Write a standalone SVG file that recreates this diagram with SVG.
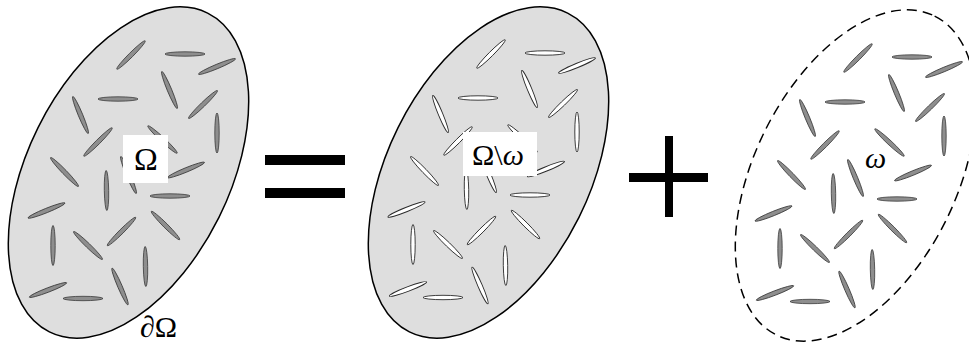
<svg xmlns="http://www.w3.org/2000/svg" xmlns:xlink="http://www.w3.org/1999/xlink" width="969" height="343" viewBox="0 0 969 343">
<style>
.region{fill:#dedede;stroke:#000;stroke-width:1.5}
.dashed{fill:none;stroke:#000;stroke-width:1.5;stroke-dasharray:10 6}
.fg{fill:#8e8e8e;stroke:#3a3a3a;stroke-width:0.8}
.fw{fill:#ffffff;stroke:#2a2a2a;stroke-width:0.9}
.lbl{font-family:"Liberation Serif","Times New Roman",serif;fill:#000}
.it{font-style:italic}
.box{fill:#fff}
.sym{fill:#000}
</style>
<defs>
<ellipse id="fb" cx="0" cy="0" rx="20" ry="2.2"/>
<g id="fibers">
<use xlink:href="#fb" transform="translate(131,55) rotate(-45)"/>
<use xlink:href="#fb" transform="translate(185,54)"/>
<use xlink:href="#fb" transform="translate(217,66.5) rotate(-22.6)"/>
<use xlink:href="#fb" transform="translate(169.5,90) rotate(67.4)"/>
<use xlink:href="#fb" transform="translate(118,99)"/>
<use xlink:href="#fb" transform="translate(203,104.5) rotate(-44)"/>
<use xlink:href="#fb" transform="translate(80.5,115) rotate(67.4)"/>
<use xlink:href="#fb" transform="translate(217,133) rotate(90)"/>
<use xlink:href="#fb" transform="translate(98,142) rotate(-45)"/>
<use xlink:href="#fb" transform="translate(162.5,139.5) rotate(43)"/>
<use xlink:href="#fb" transform="translate(64.5,172) rotate(46)"/>
<use xlink:href="#fb" transform="translate(106.5,190.5) rotate(89)"/>
<use xlink:href="#fb" transform="translate(128.5,175) rotate(67.4)"/>
<use xlink:href="#fb" transform="translate(186,170) rotate(-22.4)"/>
<use xlink:href="#fb" transform="translate(170,196)"/>
<use xlink:href="#fb" transform="translate(46.5,210.5) rotate(-22)"/>
<use xlink:href="#fb" transform="translate(165.5,225.5) rotate(45)"/>
<use xlink:href="#fb" transform="translate(121.5,231.5) rotate(-45)"/>
<use xlink:href="#fb" transform="translate(53,245.5) rotate(90)"/>
<use xlink:href="#fb" transform="translate(88,245.5) rotate(44)"/>
<use xlink:href="#fb" transform="translate(145.5,266.5) rotate(89)"/>
<use xlink:href="#fb" transform="translate(120,286.5) rotate(66.6)"/>
<use xlink:href="#fb" transform="translate(48,290) rotate(-21)"/>
<use xlink:href="#fb" transform="translate(83,298.5)"/>
</g>
</defs>
<rect width="969" height="343" fill="#fff"/>

<g id="omega-full">
<ellipse class="region" cx="128.5" cy="172.5" rx="178" ry="101" transform="rotate(-63.6 128.5 172.5)"/>
<use xlink:href="#fibers" class="fg"/>
<rect class="box" x="123" y="135" width="45" height="48"/>
<text class="lbl" x="146" y="170" font-size="32" text-anchor="middle">Ω</text>
<text class="lbl" x="140" y="337" font-size="30">∂Ω</text>
</g>

<g id="equals-sign">
<rect class="sym" x="265" y="155" width="80" height="10"/>
<rect class="sym" x="265" y="188" width="80" height="10"/>
</g>

<g id="omega-minus-w" transform="translate(360,0)">
<ellipse class="region" cx="128.5" cy="172.5" rx="178" ry="101" transform="rotate(-63.6 128.5 172.5)"/>
<use xlink:href="#fibers" class="fw" transform="translate(0,-1)"/>
<rect class="box" x="103" y="132" width="74" height="44"/>
<text class="lbl" x="112" y="165" font-size="30">Ω\<tspan class="it">ω</tspan></text>
</g>

<g id="plus-sign">
<rect class="sym" x="629" y="173" width="79" height="9"/>
<rect class="sym" x="665" y="136" width="8" height="81"/>
</g>

<g id="w-fibers" transform="translate(727,3)">
<ellipse class="dashed" cx="128.5" cy="172.5" rx="178" ry="101" transform="rotate(-63.6 128.5 172.5)"/>
<use xlink:href="#fibers" class="fg"/>
<text class="lbl it" x="138" y="165" font-size="30">ω</text>
</g>
</svg>
